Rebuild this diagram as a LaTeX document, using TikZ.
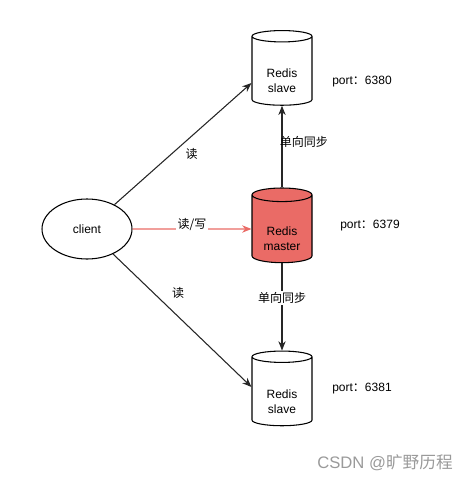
\documentclass[tikz,border=0pt]{standalone}
\usepackage{fontspec}
\setmainfont{Liberation Sans}
\newfontfamily\cjk{Noto Sans CJK SC}
\usetikzlibrary{shapes.geometric,arrows.meta}
\definecolor{masterred}{HTML}{EA6B66}
\definecolor{markgray}{HTML}{9A9A9A}
% two lines of text, set a little below the middle of the cylinder
\newcommand{\cyltext}[2]{%
    \raisebox{-8.5pt}[\height][\depth]{\begin{tabular}{@{}c@{}}#1\\#2\end{tabular}}}

\begin{document}
\begin{tikzpicture}[
    x=0.75pt, y=-0.75pt,
    font=\fontsize{9}{11.25}\selectfont,
    line width=0.8pt,
    redis/.style={
        draw,
        cylinder,
        shape border rotate=90,
        aspect=0.37,
        minimum width=45pt,
        minimum height=56pt,
        inner sep=0pt
    },
    client/.style={
        draw,
        ellipse,
        minimum width=67.5pt,
        minimum height=45pt,
        inner sep=0pt
    },
    link/.style={
        draw,
        black!85,
        -{Stealth[length=7pt,width=5.5pt]}
    },
    write link/.style={
        link,
        masterred
    },
    link label/.style={
        text=black,
        inner sep=1pt,
        font=\fontsize{9}{11.25}\cjk
    },
    port/.style={
        inner sep=0pt
    },
    ]
    \useasboundingbox (0,0) rectangle (469,482);

    % nodes
    \node [client] (client) at (87,229) {client};
    \node [redis] (slave top) at (282,71) {\cyltext{Redis}{slave}};
    \node [redis, fill=masterred] (master) at (282,229) {\cyltext{Redis}{master}};
    \node [redis] (slave bottom) at (282,391.5) {\cyltext{Redis}{slave}};

    % ports
    \node [port] (port top) at (362,82) {port{\cjk ：}6380};
    \node [port] (port master) at (370,226) {port{\cjk ：}6379};
    \node [port] (port bottom) at (362,389) {port{\cjk ：}6381};

    % links
    \draw [link] (client) -- ([yshift=-9pt]slave top.west)
        node [link label, midway, xshift=6.5pt, yshift=-7.5pt] {读};
    \draw [write link] (client) -- (master.west)
        node [link label, fill=white, midway, yshift=3.5pt] {读/写};
    \draw [link] (client) -- ([yshift=3.4pt]slave bottom.west)
        node [link label, pos=0.45, xshift=2pt, yshift=16pt] {读};
    \draw [link] (master.top) -- (slave top.bottom)
        node [link label, midway, anchor=west, xshift=-3pt, yshift=3.4pt] {单向同步};
    \draw [link] (master.bottom) -- (slave bottom.top)
        node [link label, fill=white, pos=0.4] {单向同步};

    \node [markgray, font=\fontsize{12.5}{15}\selectfont] (mark) at (385,463) {CSDN @{\cjk 旷野历程}};
\end{tikzpicture}
\end{document}
